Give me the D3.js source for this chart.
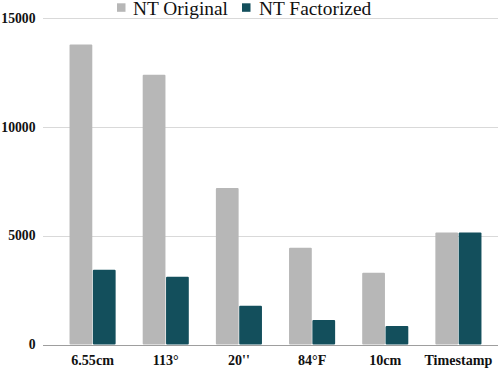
<!DOCTYPE html>
<html>
<head>
<meta charset="utf-8">
<script src="https://cdn.jsdelivr.net/npm/d3@7"></script>
<style>
  body { margin: 0; background: #fff; }
</style>
</head>
<body>
<div id="wrapper"></div>
<script>
const categories = ["6.55cm", "113°", "20''", "84°F", "10cm", "Timestamp"];
const seriesNames = ["NT Original", "NT Factorized"];
const ntOriginal = [13800, 12400, 7200, 4450, 3300, 5150];
const ntFactorized = [3440, 3110, 1780, 1130, 850, 5150];
const yTicks = [0, 5000, 10000, 15000];

function buildChart() {
  const dimensions = { width: 498, height: 370 };
  const colors = { "NT Original": "#b7b7b7", "NT Factorized": "#134f5c" };
  const font = "'Liberation Serif', 'Times New Roman', Times, serif";

  const svg = d3.select("#wrapper").append("svg")
    .attr("width", dimensions.width)
    .attr("height", dimensions.height)
    .style("font-family", font);

  const rows = categories.map((c, i) => ({
    category: c,
    values: [
      { key: "NT Original", value: ntOriginal[i] },
      { key: "NT Factorized", value: ntFactorized[i] },
    ],
  }));

  const y = d3.scaleLinear().domain([0, 15000]).range([344.5, 18.3]);

  const x0 = d3.scaleBand()
    .domain(categories)
    .range([56, 495])
    .paddingInner(0.37)
    .paddingOuter(0.185);

  const x1 = d3.scaleBand()
    .domain(seriesNames)
    .range([0, x0.bandwidth()])
    .paddingInner(0.025);

  // gridlines
  svg.append("g")
    .selectAll("line")
    .data(yTicks.filter(d => d > 0))
    .join("line")
    .attr("x1", 43)
    .attr("x2", 498)
    .attr("y1", d => Math.round(y(d)) + 0.5)
    .attr("y2", d => Math.round(y(d)) + 0.5)
    .attr("stroke", "#d9d9d9")
    .attr("stroke-width", 1);

  // y labels
  svg.append("g")
    .selectAll("text")
    .data(yTicks)
    .join("text")
    .attr("x", 35.5)
    .attr("y", d => y(d) + 4.5)
    .attr("text-anchor", "end")
    .attr("font-family", font)
    .attr("font-size", 13.7)
    .attr("font-weight", "bold")
    .attr("fill", "#111")
    .text(d => d);

  // bars
  const groups = svg.append("g")
    .selectAll("g")
    .data(rows)
    .join("g")
    .attr("transform", d => `translate(${x0(d.category)},0)`);

  groups.selectAll("rect")
    .data(d => d.values)
    .join("rect")
    .attr("x", d => x1(d.key))
    .attr("y", d => y(d.value))
    .attr("width", x1.bandwidth())
    .attr("height", d => y(0) - y(d.value))
    .attr("rx", 1)
    .attr("fill", d => colors[d.key]);

  // baseline
  svg.append("line")
    .attr("x1", 43)
    .attr("x2", 498)
    .attr("y1", Math.round(y(0)) + 0.5)
    .attr("y2", Math.round(y(0)) + 0.5)
    .attr("stroke", "#9e9e9e")
    .attr("stroke-width", 1);

  // x labels
  svg.append("g")
    .selectAll("text")
    .data(categories)
    .join("text")
    .attr("x", d => x0(d) + x0.bandwidth() / 2)
    .attr("y", 365)
    .attr("text-anchor", "middle")
    .attr("font-family", font)
    .attr("font-size", 14.1)
    .attr("font-weight", "bold")
    .attr("fill", "#111")
    .text(d => d);

  // legend
  const legendPos = [{ sx: 117, tx: 133 }, { sx: 242, tx: 259 }];
  const legend = svg.append("g")
    .selectAll("g")
    .data(seriesNames)
    .join("g");

  legend.append("rect")
    .attr("x", (d, i) => legendPos[i].sx)
    .attr("y", 3.3)
    .attr("width", 8.5)
    .attr("height", 8.5)
    .attr("fill", d => colors[d]);

  legend.append("text")
    .attr("x", (d, i) => legendPos[i].tx)
    .attr("y", 14.5)
    .attr("font-family", font)
    .attr("font-size", 19.4)
    .attr("fill", "#111")
    .text(d => d);
}

buildChart();
</script>
</body>
</html>
